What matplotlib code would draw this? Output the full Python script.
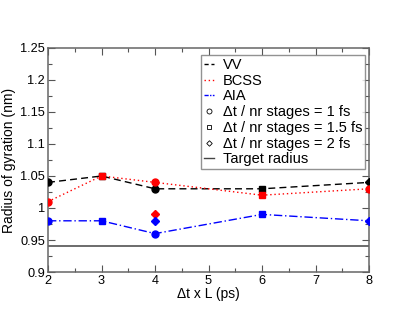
import matplotlib
matplotlib.use("Agg")
import matplotlib.pyplot as plt
from matplotlib.lines import Line2D
from matplotlib.ticker import MultipleLocator

plt.rcParams['font.family'] = ['Liberation Sans', 'DejaVu Sans']

# data
x_vals = [2, 3, 4, 6, 8]
vv = [1.04, 1.05, 1.03, 1.03, 1.04]
bcss = [1.01, 1.05, 1.04, 1.02, 1.03]
aia = [0.98, 0.98, 0.96, 0.99, 0.98]
vv_markers = ['o', 's', 'o', 's', 'D']
bcss_markers = ['o', 's', 'o', 's', 'o']
aia_markers = ['o', 's', 'o', 's', 'D']
# extra 2 fs runs at L=4
extra_x = [4, 4]
extra_y = [0.99, 0.98]
extra_colors = ['red', 'blue']
target = 0.94

marker_sizes = {'o': 5.0, 's': 4.6, 'D': 3.6}

fig = plt.figure(figsize=(4.15, 3.21), dpi=100)
ax = fig.add_axes([0.1157, 0.1526, 0.7735, 0.698])

ax.axhline(target, color='#444444', linewidth=1.1, zorder=1)
ax.plot(x_vals, vv, color='black', linestyle=(0, (5, 3)), linewidth=1.0, zorder=2)
ax.plot(x_vals, bcss, color='red', linestyle=(0, (1, 2)), linewidth=1.0, zorder=2)
ax.plot(x_vals, aia, color='blue', linestyle=(0, (6, 2, 1, 2)), linewidth=1.0, zorder=2)

for series, marks, col in [(vv, vv_markers, 'black'), (aia, aia_markers, 'blue'), (bcss, bcss_markers, 'red')]:
    for xv, yv, m in zip(x_vals, series, marks):
        ax.plot(xv, yv, marker=m, color=col, markersize=marker_sizes[m], linestyle='none', zorder=3)
for xv, yv, c in zip(extra_x, extra_y, extra_colors):
    ax.plot(xv, yv, marker='D', color=c, markersize=marker_sizes['D'], linestyle='none', zorder=3)

ax.set_xlim(2, 8)
ax.set_ylim(0.9, 1.25)
ax.xaxis.set_major_locator(MultipleLocator(1))
ax.xaxis.set_minor_locator(MultipleLocator(0.5))
ax.yaxis.set_minor_locator(MultipleLocator(0.025))
ax.set_yticks([0.9, 0.95, 1.0, 1.05, 1.1, 1.15, 1.2, 1.25])
ax.set_yticklabels(['0.9', '0.95', '1', '1.05', '1.1', '1.15', '1.2', '1.25'])
ax.tick_params(which='both', direction='in', top=True, right=True, labelsize=9.2, width=0.8, color='#555555')
ax.tick_params(which='major', length=5, pad=2)
ax.tick_params(which='minor', length=3)
for s in ax.spines.values():
    s.set_color('#666666')
    s.set_linewidth(1.1)

ax.set_xlabel('\u0394t x L (ps)', fontsize=10, labelpad=0)
ax.set_ylabel('Radius of gyration (nm)', fontsize=10, labelpad=3)

handles = [
    Line2D([], [], color='black', linestyle=(0, (3, 2)), linewidth=1.0),
    Line2D([], [], color='red', linestyle=(0, (1, 2)), linewidth=1.0),
    Line2D([], [], color='blue', linestyle=(0, (3, 1, 1, 1)), linewidth=1.0),
    Line2D([], [], color='black', marker='o', markerfacecolor='none', markersize=3.6, linestyle='none', markeredgewidth=0.6),
    Line2D([], [], color='black', marker='s', markerfacecolor='none', markersize=3.2, linestyle='none', markeredgewidth=0.6),
    Line2D([], [], color='black', marker='D', markerfacecolor='none', markersize=2.8, linestyle='none', markeredgewidth=0.6),
    Line2D([], [], color='#444444', linewidth=1.0),
]
labels = ['VV', 'BCSS', 'AIA', '\u0394t / nr stages = 1 fs', '\u0394t / nr stages = 1.5 fs',
          '\u0394t / nr stages = 2 fs', 'Target radius']
leg = fig.legend(handles, labels, loc='upper left', bbox_to_anchor=(201 / 415, 1 - 55 / 321),
                 fontsize=10.5, frameon=True, fancybox=False, handlelength=0.7, handletextpad=0.6,
                 borderpad=0.2, labelspacing=0.12, borderaxespad=0)
leg.get_frame().set_edgecolor('#777777')
leg.get_frame().set_linewidth(1.0)

fig.savefig('out.png', dpi=100)
